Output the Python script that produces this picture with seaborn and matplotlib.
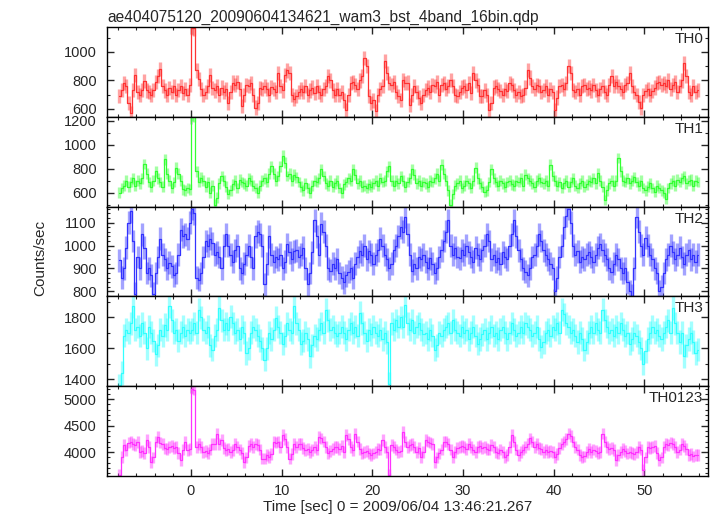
import numpy as np
import matplotlib
matplotlib.use("Agg")
import matplotlib.pyplot as plt
import seaborn as sns
from matplotlib.ticker import MultipleLocator

# light curve bins: 0.25 s, first bin centre at -7.875 s
T_START = -7.875
BIN = 0.25

th0 = [
    690, 735, 780, 760, 640, 570, 735, 840, 720, 700, 735, 795, 730, 720, 700, 735,
    790, 830, 880, 760, 730, 700, 745, 720, 760, 700, 735, 760, 710, 740, 700, 770,
    1170, 1165, 870, 810, 740, 700, 720, 760, 840, 745, 730, 760, 700, 750, 720, 740,
    640, 720, 785, 770, 790, 740, 620, 700, 770, 760, 780, 700, 610, 640, 745, 740,
    760, 740, 700, 755, 740, 720, 850, 760, 730, 840, 870, 850, 700, 670, 690, 720,
    740, 720, 760, 700, 730, 750, 710, 760, 720, 700, 740, 760, 830, 800, 730, 700,
    740, 700, 720, 660, 595, 700, 780, 790, 770, 740, 800, 830, 960, 900, 690, 640,
    660, 585, 700, 740, 760, 935, 850, 780, 770, 790, 720, 690, 665, 805, 780, 785,
    630, 700, 760, 720, 680, 640, 700, 735, 750, 720, 770, 760, 790, 700, 770, 780,
    740, 760, 805, 760, 700, 690, 720, 750, 760, 730, 780, 710, 850, 800, 770, 690,
    690, 730, 700, 595, 640, 750, 760, 740, 725, 700, 740, 725, 780, 770, 730, 700,
    720, 690, 700, 750, 875, 820, 760, 740, 770, 760, 720, 735, 760, 700, 740, 720,
    595, 680, 760, 770, 740, 780, 900, 850, 735, 720, 740, 700, 760, 770, 740, 750,
    730, 770, 735, 700, 740, 760, 720, 700, 770, 830, 760, 790, 760, 740, 720, 770,
    780, 850, 760, 720, 700, 650, 605, 700, 725, 740, 700, 725, 750, 780, 790, 770,
    780, 760, 800, 740, 770, 790, 720, 760, 800, 925, 830, 720, 700, 760, 720, 735,
]

th1 = [
    600, 640, 660, 700, 650, 690, 720, 660, 700, 680, 720, 840, 760, 690, 650, 700,
    780, 720, 690, 650, 880, 760, 700, 640, 690, 810, 760, 700, 630, 620, 640, 630,
    1240, 1235, 780, 690, 725, 700, 650, 690, 600, 660, 500, 560, 680, 740, 700, 650,
    590, 620, 670, 700, 640, 710, 690, 680, 660, 720, 700, 660, 640, 600, 660, 700,
    720, 690, 760, 820, 760, 700, 740, 820, 910, 850, 740, 760, 700, 750, 730, 690,
    650, 620, 680, 640, 600, 660, 700, 690, 720, 795, 740, 680, 660, 700, 650, 680,
    700, 640, 600, 670, 690, 720, 700, 795, 750, 680, 700, 650, 660, 640, 670, 650,
    680, 700, 660, 720, 690, 700, 780, 820, 700, 660, 700, 680, 740, 700, 650, 690,
    720, 795, 750, 680, 700, 660, 690, 680, 650, 700, 690, 720, 760, 700, 835, 760,
    700, 620, 500, 590, 660, 680, 700, 640, 660, 700, 680, 640, 700, 810, 720, 680,
    650, 610, 620, 690, 795, 720, 690, 660, 700, 680, 650, 690, 700, 670, 660, 700,
    690, 720, 660, 750, 720, 700, 680, 650, 700, 720, 690, 680, 700, 660, 835, 740,
    700, 660, 690, 640, 680, 700, 650, 690, 720, 660, 640, 680, 700, 650, 670, 700,
    690, 720, 680, 765, 700, 650, 540, 620, 680, 700, 660, 700, 890, 780, 700, 690,
    720, 680, 700, 730, 690, 660, 700, 640, 620, 650, 680, 640, 610, 660, 640, 620,
    600, 550, 640, 680, 700, 660, 710, 690, 720, 740, 680, 700, 710, 660, 700, 690,
]

th2 = [
    935, 860, 900, 990, 1100, 1150, 1020, 790, 950, 900, 1050, 990, 880, 900, 870, 790,
    880, 950, 1030, 960, 940, 900, 925, 910, 870, 880, 960, 1070, 1040, 1050, 1030, 1100,
    1160, 1140, 860, 850, 880, 950, 1020, 1000, 1030, 1010, 960, 970, 950, 900, 1000, 1050,
    1000, 960, 930, 980, 1000, 900, 880, 920, 960, 1000, 950, 900, 1040, 1060, 1050, 1000,
    830, 920, 1040, 960, 930, 950, 940, 960, 900, 930, 1005, 970, 940, 975, 980, 950,
    960, 990, 900, 830, 880, 970, 1110, 1040, 960, 1095, 1060, 1000, 900, 890, 920, 900,
    940, 880, 860, 840, 870, 885, 900, 860, 920, 950, 975, 960, 1000, 940, 975, 960,
    920, 960, 980, 1030, 1000, 960, 940, 900, 920, 980, 1000, 1040, 1080, 1060, 1125, 1050,
    960, 890, 920, 900, 950, 940, 960, 930, 900, 945, 920, 880, 900, 950, 980, 1020,
    1060, 1110, 1000, 960, 990, 950, 945, 980, 960, 1000, 970, 950, 930, 990, 960, 940,
    980, 1000, 1050, 1020, 940, 960, 930, 945, 920, 970, 950, 940, 1000, 1050, 1110, 1040,
    980, 940, 900, 885, 870, 900, 950, 960, 1000, 1050, 1020, 980, 960, 940, 920, 900,
    800, 860, 950, 1000, 1080, 1130, 1160, 1100, 1000, 960, 975, 930, 950, 940, 960, 970,
    950, 930, 960, 990, 1005, 980, 960, 940, 900, 885, 920, 960, 940, 900, 880, 900,
    840, 800, 780, 900, 1125, 1060, 1000, 960, 1035, 1000, 960, 940, 900, 880, 800, 820,
    880, 940, 960, 1000, 970, 940, 960, 990, 950, 920, 960, 980, 940, 960, 930, 960,
]

th3 = [
    1360, 1440, 1680, 1720, 1700, 1760, 1870, 1720, 1740, 1680, 1760, 1700, 1600, 1740, 1700, 1650,
    1560, 1620, 1720, 1680, 1750, 1720, 1870, 1780, 1700, 1720, 1650, 1700, 1740, 1680, 1720, 1700,
    1720, 1760, 1700, 1850, 1800, 1720, 1700, 1740, 1620, 1590, 1680, 1720, 1860, 1780, 1720, 1760,
    1720, 1805, 1760, 1700, 1720, 1660, 1740, 1700, 1570, 1600, 1700, 1740, 1720, 1680, 1650, 1600,
    1525, 1600, 1700, 1660, 1720, 1795, 1740, 1700, 1630, 1680, 1760, 1720, 1700, 1870, 1760, 1720,
    1630, 1650, 1700, 1660, 1550, 1620, 1680, 1660, 1720, 1760, 1700, 1850, 1780, 1720, 1740, 1700,
    1680, 1700, 1740, 1700, 1660, 1720, 1760, 1700, 1740, 1680, 1830, 1760, 1700, 1650, 1720, 1690,
    1740, 1700, 1680, 1720, 1660, 1700, 1640, 1370, 1760, 1720, 1780, 1740, 1800, 1740, 1880, 1760,
    1720, 1780, 1700, 1740, 1760, 1720, 1690, 1700, 1660, 1720, 1680, 1590, 1620, 1700, 1680, 1720,
    1740, 1760, 1700, 1780, 1720, 1700, 1680, 1740, 1700, 1720, 1660, 1700, 1740, 1680, 1630, 1660,
    1690, 1720, 1660, 1700, 1740, 1680, 1700, 1660, 1720, 1740, 1700, 1660, 1700, 1760, 1720, 1680,
    1700, 1740, 1700, 1760, 1740, 1720, 1680, 1700, 1740, 1660, 1610, 1640, 1700, 1720, 1680, 1740,
    1720, 1760, 1700, 1850, 1820, 1760, 1740, 1700, 1720, 1680, 1640, 1700, 1660, 1590, 1640, 1700,
    1740, 1700, 1760, 1720, 1700, 1850, 1780, 1740, 1700, 1720, 1680, 1740, 1700, 1760, 1720, 1680,
    1700, 1630, 1660, 1700, 1680, 1640, 1600, 1500, 1580, 1660, 1700, 1740, 1700, 1720, 1680, 1660,
    1700, 1740, 1780, 1700, 1860, 1760, 1700, 1640, 1700, 1550, 1620, 1660, 1700, 1640, 1570, 1590,
]

th0123 = [
    3570, 3910, 4130, 4040, 4180, 4200, 4150, 4130, 4190, 4000, 4020, 3980, 4230, 4100, 3820, 3900,
    4200, 4290, 4180, 4150, 4070, 4060, 4100, 4120, 4080, 4100, 3990, 3850, 4050, 4195, 4040, 4060,
    5200, 5180, 4100, 4160, 4100, 4000, 4020, 3980, 4050, 4160, 4160, 4350, 4150, 4225, 4080, 4040,
    4060, 4000, 4040, 4160, 4100, 4050, 3980, 3820, 3900, 4120, 4160, 4100, 4160, 4140, 4050, 3880,
    3880, 3950, 3910, 3960, 4200, 4180, 4200, 4100, 4320, 4250, 4100, 3880, 3960, 4160, 4100, 4160,
    4160, 4080, 4040, 4060, 4000, 4040, 4100, 4050, 4290, 4260, 4200, 4100, 3975, 4020, 4060, 4100,
    4100, 4060, 4120, 4000, 4320, 4250, 4100, 4040, 4350, 4200, 4060, 3975, 4000, 4020, 3975, 3950,
    3975, 4000, 4060, 4050, 4225, 4100, 4000, 3570, 4130, 4100, 4050, 4000, 4020, 4380, 4200, 4100,
    4130, 4150, 4100, 4000, 4080, 3910, 4000, 4225, 4200, 4180, 4160, 3820, 3900, 3975, 4050, 4200,
    4200, 4150, 4050, 3910, 4000, 4080, 4100, 4120, 4100, 4060, 4160, 4100, 4050, 4000, 4100, 4120,
    4080, 4100, 4060, 4050, 4130, 4100, 4000, 3975, 4050, 4000, 3910, 3950, 4100, 4320, 4200, 4050,
    3945, 4000, 4050, 4100, 4150, 4260, 4200, 4100, 4150, 4080, 4060, 4000, 4050, 4000, 4020, 4000,
    3910, 3960, 4080, 4160, 4200, 4250, 4350, 4300, 4200, 4100, 4050, 3950, 3910, 3920, 4000, 4060,
    4000, 4050, 4020, 3980, 4000, 4350, 4200, 4100, 4060, 4080, 4040, 3850, 3950, 4000, 4060, 4020,
    3975, 4000, 3980, 3960, 4000, 4100, 4050, 3660, 3900, 4100, 4080, 4100, 4120, 3980, 3850, 3900,
    4100, 4160, 4140, 4180, 4160, 4100, 4000, 4050, 4160, 4120, 4060, 3945, 3960, 3920, 3950, 3945,
]

bands = ["TH0", "TH1", "TH2", "TH3", "TH0123"]
series = [th0, th1, th2, th3, th0123]
errors = [50, 45, 50, 75, 110]
colors = ["#ff3333", "#33ff33", "#3333ff", "#33ffff", "#ff33ff"]
ylims = [(545, 1175), (485, 1232), (778, 1170), (1355, 1935), (3550, 5245)]
ymajor = [200, 200, 100, 200, 500]
yminor = [100, 100, 20, 100, 100]

sns.set_theme(style="ticks")
plt.rcParams["font.family"] = ["Liberation Sans", "DejaVu Sans"]
plt.rcParams.update({
    "xtick.direction": "in",
    "ytick.direction": "in",
    "xtick.top": True,
    "ytick.right": True,
    "axes.edgecolor": "black",
    "axes.linewidth": 1.0,
})

fig = plt.figure(figsize=(7.17, 5.16), dpi=100)

left, right = 107 / 717, 708 / 717
top, bottom = 1 - 27 / 516, 1 - 476 / 516
h = (top - bottom) / 5

for i, (name, vals) in enumerate(zip(bands, series)):
    ax = fig.add_axes([left, top - (i + 1) * h, right - left, h])
    t = T_START + BIN * np.arange(len(vals))
    ax.errorbar(t, vals, yerr=errors[i], fmt="none", ecolor=colors[i],
                elinewidth=2.4, alpha=0.45, capsize=0)
    sns.lineplot(x=t, y=vals, ax=ax, color=colors[i], lw=0.9,
                 drawstyle="steps-mid", estimator=None)

    ax.set_xlim(-9.25, 57.0)
    ax.set_ylim(*ylims[i])
    ax.xaxis.set_major_locator(MultipleLocator(10))
    ax.xaxis.set_minor_locator(MultipleLocator(2))
    ax.yaxis.set_major_locator(MultipleLocator(ymajor[i]))
    ax.yaxis.set_minor_locator(MultipleLocator(yminor[i]))
    ax.tick_params(which="major", length=5, width=1, labelsize=10.5,
                   top=True, right=True)
    ax.tick_params(axis="y", which="major", pad=7.5)
    ax.tick_params(axis="x", which="major", pad=6)
    ax.tick_params(which="minor", length=2.5, width=0.8, top=True, right=True)
    for s in ax.spines.values():
        s.set_visible(True)
    ax.set_xlabel("")
    ax.set_ylabel("")
    if i < 4:
        ax.tick_params(labelbottom=False)
    ax.text(0.992, 0.945, name, transform=ax.transAxes, ha="right", va="top",
            fontsize=11)

fig.text(left, 1 - 22 / 516, "ae404075120_20090604134621_wam3_bst_4band_16bin.qdp",
         ha="left", va="baseline", fontsize=11.2)
fig.text(40 / 717, 1 - 258 / 516, "Counts/sec", rotation=90, ha="center",
         va="center", fontsize=11)
fig.text(398 / 717, 1 - 507 / 516, "Time [sec] 0 = 2009/06/04 13:46:21.267",
         ha="center", va="center", fontsize=11)

fig.savefig("out.png", dpi=100)
